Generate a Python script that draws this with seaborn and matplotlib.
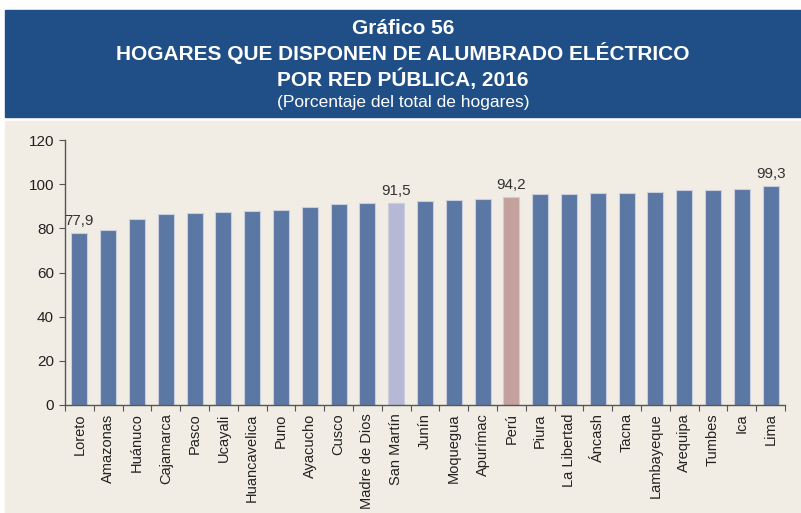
import matplotlib
matplotlib.use("Agg")
import matplotlib.pyplot as plt
from matplotlib.patches import Rectangle
import seaborn as sns
import pandas as pd

regiones = ["Loreto", "Amazonas", "Huánuco", "Cajamarca", "Pasco", "Ucayali",
            "Huancavelica", "Puno", "Ayacucho", "Cusco", "Madre de Dios",
            "San Martín", "Junín", "Moquegua", "Apurímac", "Perú", "Piura",
            "La Libertad", "Áncash", "Tacna", "Lambayeque", "Arequipa",
            "Tumbes", "Ica", "Lima"]
porcentajes = [77.9, 79.1, 84.2, 86.6, 87.0, 87.3, 87.9, 88.3, 89.7, 90.9,
               91.3, 91.5, 92.2, 93.0, 93.3, 94.2, 95.6, 95.6, 95.9, 96.0,
               96.5, 97.2, 97.3, 98.0, 99.3]
etiquetadas = ["Loreto", "San Martín", "Perú", "Lima"]
y_ticks = [0, 20, 40, 60, 80, 100, 120]

AZUL = "#5B77A3"
colores = {r: AZUL for r in regiones}
colores["San Martín"] = "#B6B8D5"
colores["Perú"] = "#C5A19D"

sns.set_theme(style="white")
plt.rcParams["font.family"] = ["Liberation Sans", "DejaVu Sans"]

fig = plt.figure(figsize=(8.01, 5.13), dpi=100)
W, H = 801, 513

# header banner and chart panel (behind the axes)
fig.patches.append(Rectangle((5 / W, 1 - 117 / H), 796 / W, 107 / H,
                             transform=fig.transFigure, color="#1F4F86", zorder=-2))
fig.patches.append(Rectangle((5 / W, 0), 796 / W, 1 - 121 / H,
                             transform=fig.transFigure, color="#F1EDE5", zorder=-2))

cx = (5 + 801) / 2 / W
fig.text(cx, 1 - 28 / H, "Gráfico 56", ha="center", va="center", color="white",
         fontsize=15, fontweight="bold")
fig.text(cx, 1 - 53 / H, "HOGARES QUE DISPONEN DE ALUMBRADO ELÉCTRICO", ha="center",
         va="center", color="white", fontsize=15, fontweight="bold")
fig.text(cx, 1 - 79 / H, "POR RED PÚBLICA, 2016", ha="center", va="center",
         color="white", fontsize=15, fontweight="bold")
fig.text(cx, 1 - 102 / H, "(Porcentaje del total de hogares)", ha="center",
         va="center", color="white", fontsize=12.5)

ax = fig.add_axes([65 / W, 1 - 405 / H, 720 / W, 265 / H])
ax.set_facecolor("none")

df = pd.DataFrame({"region": regiones, "valor": porcentajes})
sns.barplot(data=df, x="region", y="valor", hue="region", palette=colores,
            legend=False, width=0.55, edgecolor="#C9CFDD", linewidth=0.8,
            saturation=1, ax=ax)

for i, (r, v) in enumerate(zip(regiones, porcentajes)):
    if r in etiquetadas:
        ax.text(i, v + 2.2, f"{v:.1f}".replace(".", ","), ha="center",
                va="bottom", fontsize=11, color="#333333")

ax.set_xlim(-0.5, len(regiones) - 0.5)
ax.set_ylim(0, 120)
ax.set_yticks(y_ticks)
ax.set_yticklabels([str(t) for t in y_ticks])
ax.set_xlabel("")
ax.set_ylabel("")
ax.set_xticks(range(len(regiones)))
ax.set_xticklabels(regiones, rotation=90)
ax.set_xticks([i - 0.5 for i in range(len(regiones) + 1)], minor=True)
ax.tick_params(axis="x", which="major", length=0, pad=6, labelsize=10.5,
               labelcolor="#222222")
ax.tick_params(axis="x", which="minor", length=4, width=0.8, color="#555555",
               direction="out", bottom=True)
ax.tick_params(axis="y", length=4, width=0.8, color="#555555", direction="out",
               left=True, labelsize=11, labelcolor="#222222", pad=4)

for s in ["top", "right"]:
    ax.spines[s].set_visible(False)
for s in ["left", "bottom"]:
    ax.spines[s].set_color("#555555")
    ax.spines[s].set_linewidth(1.0)

fig.savefig("out.png", dpi=100)
